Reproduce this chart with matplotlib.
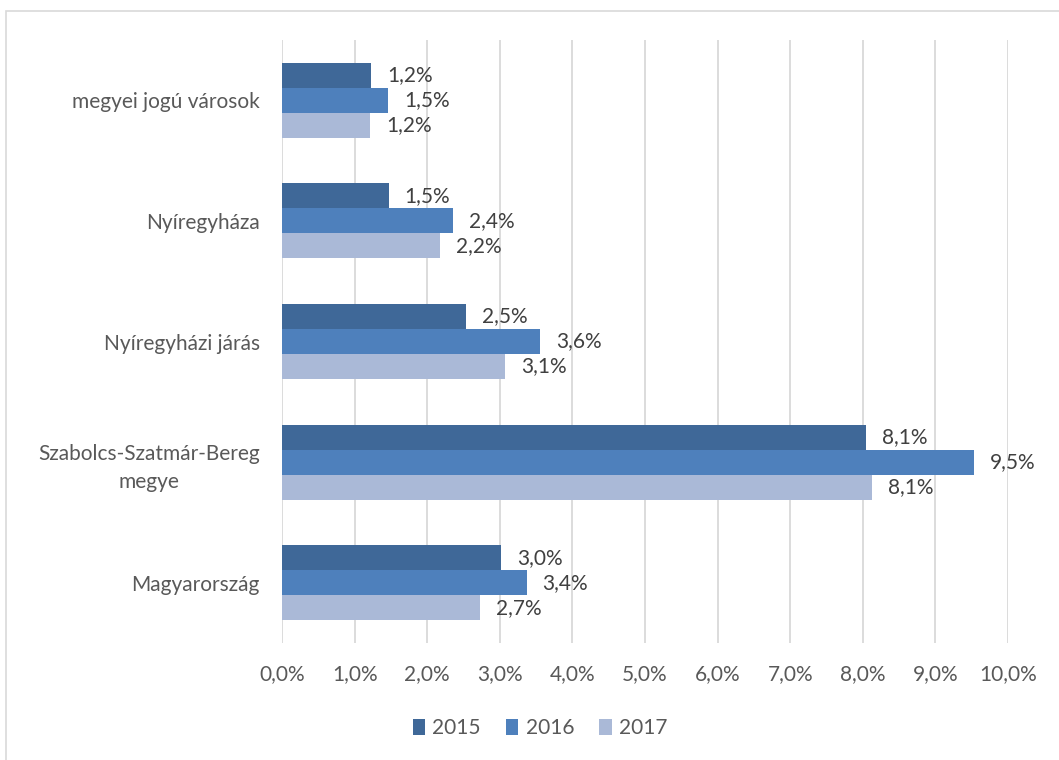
import matplotlib
matplotlib.use("Agg")
import matplotlib.pyplot as plt
import numpy as np
from matplotlib.patches import Rectangle

plt.rcParams["font.family"] = ["Lato", "DejaVu Sans"]

categories = ["megyei jogú városok", "Nyíregyháza", "Nyíregyházi járás",
              "Szabolcs-Szatmár-Bereg\nmegye", "Magyarország"]
years = ["2015", "2016", "2017"]
v2015 = [1.23, 1.47, 2.53, 8.05, 3.02]
v2016 = [1.46, 2.36, 3.56, 9.53, 3.37]
v2017 = [1.21, 2.17, 3.07, 8.13, 2.73]
colors = ["#3F6898", "#4E80BC", "#AAB9D7"]
xticks = [0, 1, 2, 3, 4, 5, 6, 7, 8, 9, 10]

fig = plt.figure(figsize=(10.59, 7.6), dpi=100)
ax = fig.add_axes([282 / 1059, 1 - 643 / 760, 726 / 1059, 603 / 760])

# light frame around the chart (only top and left visible in the source)
fig.add_artist(Rectangle((6 / 1059, -0.05), 1.1, 1 - 11 / 760 + 0.05,
                         transform=fig.transFigure, fill=False,
                         edgecolor="#D9D9D9", lw=1.2))

y = np.arange(len(categories))
h = 0.207
for i, (vals, col, yr) in enumerate(zip([v2015, v2016, v2017], colors, years)):
    pos = y + (i - 1) * h
    ax.barh(pos, vals, height=h, color=col, label=yr, zorder=3)
    for p, v in zip(pos, vals):
        ax.text(v + 0.22, p, f"{v:.1f}%".replace(".", ","), va="center",
                ha="left", fontsize=15, color="#404040", zorder=4)

ax.set_xlim(0, 10)
ax.set_ylim(len(categories) - 0.5, -0.5)
ax.set_xticks(xticks)
ax.set_xticklabels([f"{t:.1f}%".replace(".", ",") for t in xticks])
ax.set_yticks(y)
ax.set_yticklabels(categories, linespacing=1.5, multialignment="center")
ax.tick_params(axis="both", length=0, labelsize=15, colors="#595959")
ax.tick_params(axis="x", pad=15)
ax.tick_params(axis="y", pad=16)
ax.grid(axis="x", color="#D9D9D9", lw=1.3, zorder=0)
for s in ax.spines.values():
    s.set_visible(False)

fig.legend(loc="center", bbox_to_anchor=(540 / 1059, 1 - 728 / 760),
           ncol=3, frameon=False, fontsize=15, handlelength=0.6,
           handleheight=0.8, handletextpad=0.35, columnspacing=1.2,
           labelcolor="#595959")

fig.savefig("out.png", dpi=100, facecolor="white")
